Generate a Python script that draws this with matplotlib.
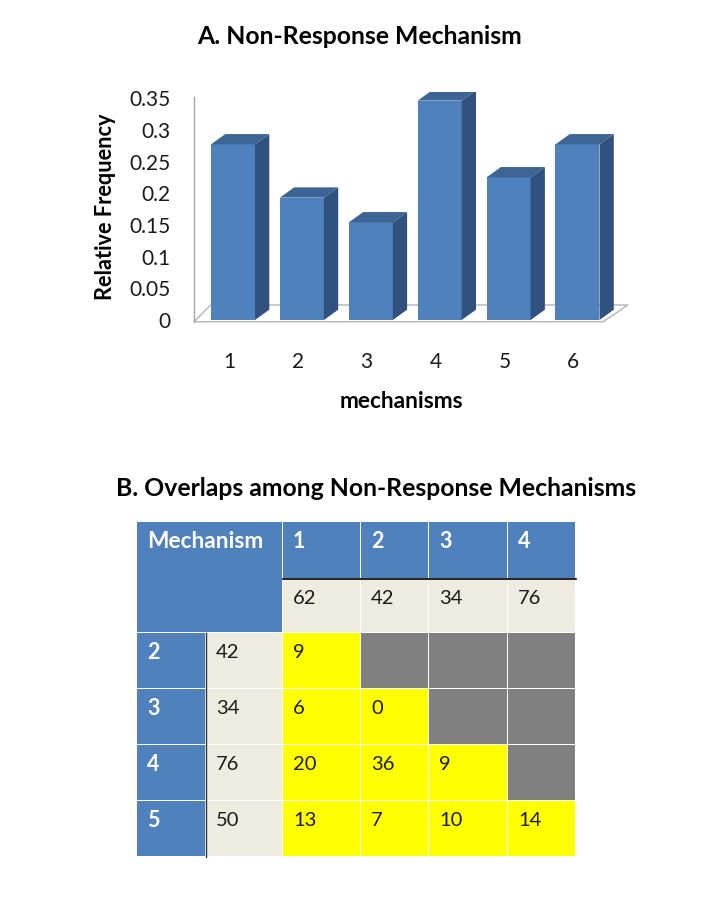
import matplotlib
matplotlib.use("Agg")
import matplotlib.pyplot as plt
from matplotlib.patches import Rectangle, Polygon

plt.rcParams['font.family'] = ['Lato', 'DejaVu Sans']

## chart A data
mechanisms = [1, 2, 3, 4, 5, 6]
rel_freq = [0.277, 0.193, 0.154, 0.346, 0.225, 0.277]
y_ticks = [0, 0.05, 0.1, 0.15, 0.2, 0.25, 0.3, 0.35]
y_tick_labels = ['0', '0.05', '0.1', '0.15', '0.2', '0.25', '0.3', '0.35']

## table B data
col_labels = ['1', '2', '3', '4']
col_totals = [62, 42, 34, 76]
row_labels = ['2', '3', '4', '5']
row_totals = [42, 34, 76, 50]
overlaps = [
    [9, None, None, None],
    [6, 0, None, None],
    [20, 36, 9, None],
    [13, 7, 10, 14],
]

W, H = 720, 905
fig = plt.figure(figsize=(W / 100, H / 100), dpi=100)

def px_axes(x0, y0, x1, y1):
    # pixel box (top-left origin) -> figure fraction
    return [x0 / W, 1 - y1 / H, (x1 - x0) / W, (y1 - y0) / H]

# ---------------- A. bar chart (pseudo 3D) ----------------
ylo, yhi = -0.005, 0.36
ppu = 634.0  # pixels per unit of relative frequency
y0_px = 320.0
ax = fig.add_axes(px_axes(194, y0_px - yhi * ppu, 625, y0_px - ylo * ppu))
step = 68.9
xlo = 1 - (233 - 194) / step
xhi = 1 + (625 - 233) / step
ax.set_xlim(xlo, xhi)
ax.set_ylim(ylo, yhi)

bw = 44 / step
dx = 14.3 / step
dy = 10.3 / ppu

# floor
fx0 = xlo
fx1 = 1 + (603 - 233) / step
fdx_l = 16.7 / step
fdx_r = 25 / step
fdy = 16.7 / ppu
floor_y = -1.7 / ppu
ax.add_patch(Polygon([(fx0, floor_y), (fx1, floor_y), (fx1 + fdx_r, floor_y + fdy),
                      (fx0 + fdx_l, floor_y + fdy)], closed=True, facecolor='white',
                     edgecolor='#b4b4b4', lw=1.0, clip_on=False, zorder=1))
# wall line
ax.plot([fx0, fx0], [floor_y, 0.352], color='#a6a6a6', lw=1.0, clip_on=False, zorder=1)

front = '#4f81bd'
top_c = '#3c6494'
side_c = '#31527f'
ax.bar(mechanisms, rel_freq, width=bw, color=front, zorder=3)
for x, v in zip(mechanisms, rel_freq):
    l, r = x - bw / 2, x + bw / 2
    ax.fill([r, r + dx, r + dx, r], [0, dy, v + dy, v], color=side_c, zorder=3, lw=0)
    ax.fill([l, l + dx, r + dx, r], [v, v + dy, v + dy, v], color=top_c, zorder=3, lw=0)

for s in ax.spines.values():
    s.set_visible(False)
ax.set_yticks(y_ticks)
ax.set_yticklabels(y_tick_labels)
ax.set_xticks([m - 0.06 for m in mechanisms])
ax.set_xticklabels([str(m) for m in mechanisms])
ax.tick_params(axis='y', length=0, pad=17, labelsize=15, labelcolor='#1a1a1a')
ax.tick_params(axis='x', length=0, pad=21, labelsize=15, labelcolor='#1a1a1a')
ax.set_facecolor('none')

fig.text(360 / W, 1 - 36 / H, 'A. Non-Response Mechanism', ha='center', va='center',
         fontsize=17.8, fontweight='bold')
fig.text(106 / W, 1 - 207 / H, 'Relative Frequency', ha='center', va='center',
         rotation=90, fontsize=15.7, fontweight='bold')
fig.text(401 / W, 1 - 401 / H, 'mechanisms', ha='center', va='center',
         fontsize=16.3, fontweight='bold')

# ---------------- B. table ----------------
fig.text(376 / W, 1 - 488 / H, 'B. Overlaps among Non-Response Mechanisms', ha='center',
         va='center', fontsize=17.8, fontweight='bold')

tx = fig.add_axes([0, 0, 1, 1])
tx.set_xlim(0, W)
tx.set_ylim(H, 0)
tx.axis('off')

col_edges = [137, 206, 283, 361, 429, 508, 576]
row_edges = [522, 579, 633, 689, 745, 801, 857]
blue = '#4f81bd'
beige = '#eeece1'
gray = '#808080'
yellow = '#ffff00'
gap = 1.5

def cell(c0, c1, r0, r1, color):
    x0, x1 = col_edges[c0], col_edges[c1]
    y0, y1 = row_edges[r0], row_edges[r1]
    tx.add_patch(Rectangle((x0, y0), x1 - x0 - gap, y1 - y0 - gap, facecolor=color,
                           edgecolor='none'))

def label(c, r, s, color='#1a1a1a', bold=False, size=14.5):
    tx.text(col_edges[c] + 10, row_edges[r] + 19, s, ha='left', va='center',
            fontsize=size, color=color, fontweight='bold' if bold else 'normal')

cell(0, 2, 0, 2, blue)
label(0, 0, 'Mechanism', color='white', bold=True, size=16.3)
for j, (lab, tot) in enumerate(zip(col_labels, col_totals)):
    cell(j + 2, j + 3, 0, 1, blue)
    label(j + 2, 0, lab, color='white', bold=True, size=15.5)
    cell(j + 2, j + 3, 1, 2, beige)
    label(j + 2, 1, str(tot))
for i, (lab, tot) in enumerate(zip(row_labels, row_totals)):
    cell(0, 1, i + 2, i + 3, blue)
    label(0, i + 2, lab, color='white', bold=True, size=15.5)
    cell(1, 2, i + 2, i + 3, beige)
    label(1, i + 2, str(tot))
    for j, val in enumerate(overlaps[i]):
        cell(j + 2, j + 3, i + 2, i + 3, gray if val is None else yellow)
        if val is not None:
            label(j + 2, i + 2, str(val))

tx.plot([col_edges[2], col_edges[-1]], [row_edges[1] - 0.5, row_edges[1] - 0.5],
        color='black', lw=1.2)
tx.plot([col_edges[1], col_edges[1]], [row_edges[2], row_edges[-1]], color='#333333', lw=1.0)

fig.savefig('out.png', dpi=100)
